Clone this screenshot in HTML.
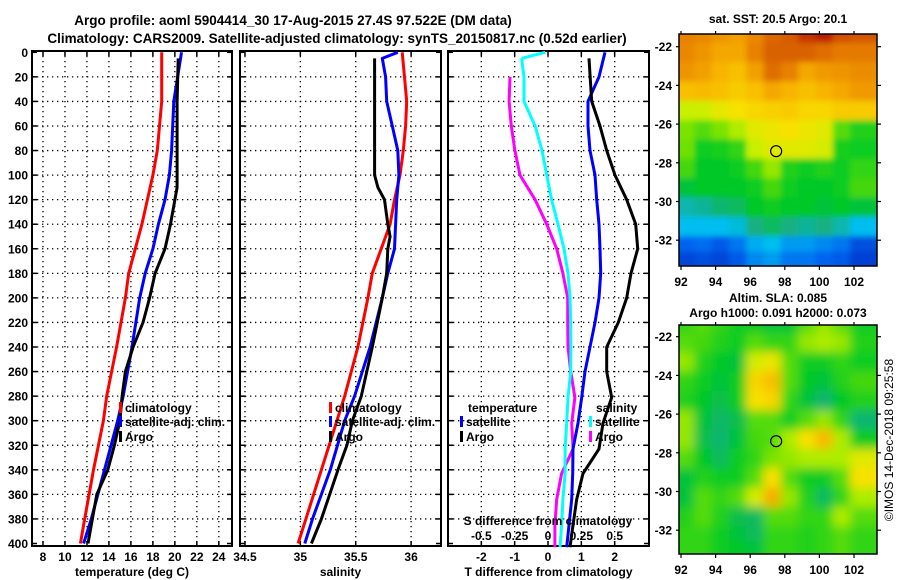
<!DOCTYPE html>
<html><head><meta charset="utf-8"><style>
body{margin:0;background:#fff}
svg{display:block;font-family:"Liberation Sans",sans-serif;font-weight:bold}
</style></head><body>
<svg id="c" width="900" height="580" viewBox="0 0 900 580" xmlns="http://www.w3.org/2000/svg">
<defs>
<filter id="bl" x="-5%" y="-5%" width="110%" height="110%"><feGaussianBlur stdDeviation="5"/></filter>
<filter id="bl2" x="-5%" y="-5%" width="110%" height="110%"><feGaussianBlur stdDeviation="3"/></filter>
<clipPath id="m1"><rect x="679" y="34" width="198" height="232"/></clipPath>
<clipPath id="m2"><rect x="679" y="325" width="198" height="229"/></clipPath>
</defs>
<text x="293" y="25" text-anchor="middle" font-size="13.5">Argo profile: aoml 5904414_30 17-Aug-2015 27.4S 97.522E (DM data)</text>
<text x="337" y="43" text-anchor="middle" font-size="13.5">Climatology: CARS2009. Satellite-adjusted climatology: synTS_20150817.nc (0.52d earlier)</text>
<text x="778" y="23" text-anchor="middle" font-size="12">sat. SST: 20.5 Argo: 20.1</text>
<text x="778" y="302" text-anchor="middle" font-size="12">Altim. SLA: 0.085</text>
<text x="778" y="317" text-anchor="middle" font-size="12">Argo h1000: 0.091 h2000: 0.073</text>
<text transform="translate(893,440) rotate(-90)" text-anchor="middle" font-size="12" font-weight="normal">©IMOS 14-Dec-2018 09:25:58</text>
<g id="g"></g>
</svg>
<script>
// ---- data ----
const depthTicks=[0,20,40,60,80,100,120,140,160,180,200,220,240,260,280,300,320,340,360,380,400];
const tempTicks=[8,10,12,14,16,18,20,22,24];
const salTicks=[34.5,35,35.5,36];
const salTickLabels=["34.5","35","35.5","36"];
const tdiffTicks=[-2,-1,0,1,2];
const sdiffTicks=[-0.5,-0.25,0,0.25,0.5];
const sdiffLabels=["-0.5","-0.25","0","0.25","0.5"];

const tClimDepth=[0,40,80,100,120,140,160,180,200,240,280,300,340,380,400];
const tClim=[18.8,18.8,18.4,18.0,17.5,17.0,16.4,15.8,15.5,14.7,13.8,13.5,12.6,11.8,11.4];
const tSatDepth=[0,40,80,100,120,140,160,180,200,240,280,300,340,380,400];
const tSat=[20.6,19.9,19.7,19.5,19.1,18.5,18.0,17.3,16.8,16.1,15.3,14.8,13.6,12.4,11.7];
const tArgoDepth=[5,40,100,110,120,140,160,180,200,220,240,260,280,300,320,340,360,380,400];
const tArgo=[20.3,20.2,20.2,20.2,20.0,19.6,19.1,18.2,17.7,17.1,16.2,15.5,15.2,15.0,14.5,13.9,12.9,12.5,12.1];

const sClimDepth=[0,20,40,60,80,100,120,140,160,180,200,240,280,300,340,380,400];
const sClim=[35.92,35.94,35.96,35.95,35.93,35.90,35.85,35.81,35.73,35.65,35.61,35.52,35.40,35.33,35.19,35.05,34.98];
const sSatDepth=[0,5,20,40,60,80,100,120,140,160,180,200,240,280,300,340,380,400];
const sSat=[35.88,35.74,35.77,35.78,35.83,35.88,35.89,35.87,35.86,35.85,35.79,35.74,35.63,35.49,35.40,35.27,35.11,35.04];
const sArgoDepth=[5,100,110,120,140,150,160,180,200,240,280,300,320,340,380,400];
const sArgo=[35.67,35.67,35.70,35.76,35.79,35.81,35.79,35.78,35.74,35.65,35.55,35.47,35.42,35.34,35.19,35.10];

const dDepth=[0,20,40,60,80,100,120,140,160,180,200,220,240,260,281,302,323,343,364,385,403];
const dTSat=[1.71,1.53,1.2,1.2,1.26,1.41,1.46,1.53,1.56,1.58,1.53,1.41,1.26,1.11,1.01,0.9,0.75,0.74,0.71,0.63,0.56];
const dTArgo=[1.26,1.23,1.31,1.56,1.76,2.01,2.36,2.63,2.69,2.49,2.36,2.11,1.76,1.76,1.91,1.65,1.53,1.05,0.86,0.75,0.66];
const dSSat=[-0.022,-0.18,-0.18,-0.097,-0.045,-0.01,0.027,0.075,0.12,0.15,0.165,0.17,0.172,0.17,0.15,0.14,0.128,0.128,0.112,0.102,0.09];
const dSArgo=[-0.262,-0.285,-0.292,-0.275,-0.248,-0.21,-0.097,-0.01,0.065,0.112,0.148,0.148,0.15,0.17,0.202,0.178,0.188,0.102,0.065,0.052,0.052];
const dSSatTop=[-0.022,-0.198];
const dSSatTopDepth=[0,5];

const lons=[92.5,93.5,94.5,95.5,96.5,97.5,98.5,99.5,100.5,101.5,102.5];
const lats=[-21.5,-22.5,-23.5,-24.5,-25.5,-26.5,-27.5,-28.5,-29.5,-30.5,-31.5,-32.5,-33.3];
const sstGrid=[
[.86,.85,.83,.81,.85,.90,.92,.96,.98,.94,.93],
[.85,.83,.80,.80,.86,.91,.91,.91,.89,.87,.87],
[.83,.81,.78,.76,.81,.89,.86,.80,.82,.83,.84],
[.76,.77,.76,.74,.76,.80,.78,.76,.78,.80,.82],
[.62,.63,.67,.70,.72,.73,.74,.72,.72,.74,.74],
[.56,.52,.56,.60,.66,.68,.70,.68,.66,.52,.46],
[.55,.44,.45,.48,.62,.66,.66,.66,.64,.45,.44],
[.50,.42,.42,.44,.50,.58,.46,.44,.46,.44,.48],
[.40,.42,.42,.42,.44,.50,.44,.42,.42,.44,.50],
[.28,.30,.34,.36,.42,.44,.42,.42,.40,.42,.40],
[.22,.22,.22,.24,.32,.36,.32,.30,.32,.28,.22],
[.12,.13,.10,.14,.20,.22,.18,.18,.16,.14,.08],
[.06,.08,.06,.10,.16,.18,.14,.14,.12,.10,.05]];
const slaGrid=[
[.48,.52,.48,.44,.42,.40,.40,.52,.58,.52,.44],
[.52,.50,.46,.44,.52,.48,.48,.58,.60,.58,.46],
[.58,.46,.42,.40,.64,.68,.52,.44,.44,.48,.44],
[.48,.44,.40,.44,.72,.76,.52,.42,.40,.46,.50],
[.46,.42,.38,.44,.70,.72,.48,.40,.34,.42,.46],
[.58,.40,.35,.38,.52,.52,.44,.52,.58,.48,.34],
[.58,.38,.34,.40,.50,.52,.60,.70,.77,.60,.44],
[.52,.42,.36,.44,.48,.56,.58,.60,.60,.60,.66],
[.40,.46,.44,.44,.52,.70,.52,.44,.44,.52,.70],
[.40,.52,.48,.52,.64,.79,.58,.46,.36,.48,.60],
[.46,.52,.46,.38,.36,.52,.52,.48,.48,.60,.52],
[.48,.48,.44,.40,.36,.48,.48,.46,.48,.52,.48],
[.48,.48,.44,.42,.40,.48,.48,.46,.48,.52,.48]];
const mapLonTicks=[92,94,96,98,100,102];
const mapLatTicks=[-22,-24,-26,-28,-30,-32];
const argoLon=97.5, argoLat=-27.4;

// ---- drawing ----
const NS="http://www.w3.org/2000/svg";
const G=document.getElementById('g');
function el(t,a,p){const e=document.createElementNS(NS,t);for(const k in a)e.setAttribute(k,a[k]);(p||G).appendChild(e);return e;}
const Y0=52.3,YS=1.228;
const yD=d=>Y0+d*YS;
const P1={x0:32,x1:232,lo:7,hi:25.2};
const P2={x0:240,x1:441,lo:34.455,hi:36.27};
const P3={x0:448,x1:649,lo:-3.0,hi:3.03};
const sx=(P,v)=>P.x0+(v-P.lo)/(P.hi-P.lo)*(P.x1-P.x0);
const sxS=v=>sx(P3,v*4);
const TOP=51,BOT=546;

function panel(P,name,xt,xl,title){
  const g=el('g',{});
  
  
  depthTicks.forEach(d=>{ if(d>0&&d<400){
    const l=el('line',{x1:P.x0,x2:P.x1,y1:yD(d),y2:yD(d),stroke:'#000','stroke-width':1.3,'stroke-dasharray':'1.3,3.7'},g);
    }
    el('line',{x1:P.x0,x2:P.x0+5,y1:yD(d),y2:yD(d),stroke:'#000','stroke-width':1.5},g);
    el('line',{x1:P.x1-5,x2:P.x1,y1:yD(d),y2:yD(d),stroke:'#000','stroke-width':1.5},g);
  });
  xt.forEach((v,i)=>{const x=sx(P,v);
    const l=el('line',{x1:x,x2:x,y1:TOP,y2:BOT,stroke:'#000','stroke-width':1.3,'stroke-dasharray':'1.3,3.7'},g);
    
    el('line',{x1:x,x2:x,y1:BOT-5,y2:BOT,stroke:'#000','stroke-width':1.5},g);
    el('line',{x1:x,x2:x,y1:TOP,y2:TOP+5,stroke:'#000','stroke-width':1.5},g);
    const t=el('text',{x:x,y:561,'text-anchor':'middle','font-size':12},g);t.textContent=xl[i];
    
  });
  const r=el('rect',{x:P.x0,y:TOP,width:P.x1-P.x0,height:BOT-TOP,fill:'none',stroke:'#000','stroke-width':2},g);
  
  const t=el('text',{x:(P.x0+P.x1)/2,y:576,'text-anchor':'middle','font-size':12},g);t.textContent=title;
  
}
panel(P1,'temperature-panel',tempTicks,tempTicks.map(String),'temperature (deg C)');
panel(P2,'salinity-panel',salTicks,salTickLabels,'salinity');
panel(P3,'difference-panel',tdiffTicks,tdiffTicks.map(String),'T difference from climatology');
depthTicks.forEach(d=>{const t=el('text',{x:28,y:yD(d)+4.5,'text-anchor':'end','font-size':12});t.textContent=d;
  });

function line(xs,ds,fx,color,name){
  const pts=xs.map((v,i)=>fx(v).toFixed(1)+','+yD(ds[i]).toFixed(1)).join(' ');
  const p=el('polyline',{points:pts,fill:'none',stroke:color,'stroke-width':3,'stroke-linejoin':'round'});
  
  
}
line(tClim,tClimDepth,v=>sx(P1,v),'#ff0000','temp-climatology-line');
line(tSat,tSatDepth,v=>sx(P1,v),'#0000ff','temp-satellite-line');
line(tArgo,tArgoDepth,v=>sx(P1,v),'#000','temp-argo-line');
line(sClim,sClimDepth,v=>sx(P2,v),'#ff0000','sal-climatology-line');
line(sSat,sSatDepth,v=>sx(P2,v),'#0000ff','sal-satellite-line');
line(sArgo,sArgoDepth,v=>sx(P2,v),'#000','sal-argo-line');
line(dSArgo.slice(1),dDepth.slice(1),sxS,'#ff00ff','sdiff-argo-line');
line(dSSatTop,dSSatTopDepth,sxS,'#00ffff','sdiff-satellite-top');
line([dSSatTop[1]].concat(dSSat.slice(1)),[5].concat(dDepth.slice(1)),sxS,'#00ffff','sdiff-satellite-line');
line(dTSat,dDepth,v=>sx(P3,v),'#0000ff','tdiff-satellite-line');
line(dTArgo.slice(1),[5].concat(dDepth.slice(2)),v=>sx(P3,v),'#000','tdiff-argo-line');

let st=el('text',{x:548,y:525,'text-anchor':'middle','font-size':12});st.textContent='S difference from climatology';

sdiffTicks.forEach((v,i)=>{const t=el('text',{x:sxS(v),y:540,'text-anchor':'middle','font-size':12});t.textContent=sdiffLabels[i];
  });

function legend(x,y,color,label,name){
  const r=el('rect',{x:x,y:y-10,width:3,height:11,fill:color});
  
  const t=el('text',{x:x+6,y:y,'font-size':12});t.textContent=label;
  
}
legend(119,412,'#ff0000','climatology','legend-climatology');
legend(119,426,'#0000ff','satellite-adj. clim.','legend-satellite');
legend(119,441,'#000','Argo','legend-argo');
legend(329,412,'#ff0000','climatology','legend-sal-climatology');
legend(329,426,'#0000ff','satellite-adj. clim.','legend-sal-satellite');
legend(329,441,'#000','Argo','legend-sal-argo');
let tt=el('text',{x:468,y:412,'font-size':12});tt.textContent='temperature';

legend(460,426,'#0000ff','satellite','legend-tdiff-satellite');
legend(460,441,'#000','Argo','legend-tdiff-argo');
let ts=el('text',{x:596,y:412,'font-size':12});ts.textContent='salinity';

legend(589,426,'#00ffff','satellite','legend-sdiff-satellite');
legend(589,441,'#ff00ff','Argo','legend-sdiff-argo');

// ---- maps ----
const stops=[[0,[0,40,190]],[.12,[0,100,240]],[.22,[0,190,240]],[.32,[20,176,130]],[.42,[0,200,40]],[.55,[110,225,0]],[.62,[200,240,0]],[.7,[248,225,0]],[.78,[248,180,0]],[.86,[232,128,0]],[.94,[208,80,0]],[1,[176,0,0]]];
function cmap(v){for(let i=1;i<stops.length;i++){if(v<=stops[i][0]){const a=stops[i-1],b=stops[i],f=(v-a[0])/(b[0]-a[0]);
  const c=a[1].map((x,k)=>Math.round(x+(b[1][k]-x)*f));return 'rgb('+c+')';}}return 'rgb(176,0,0)';}
function map(grid,box,clip,filt,name,latY){
  const mx=lon=>681+(lon-92)*17.3;
  const my=lat=>latY(lat);
  const g=el('g',{'clip-path':'url(#'+clip+')'});
  
  const gi=el('g',{filter:'url(#'+filt+')'},g);
  grid.forEach((row,r)=>row.forEach((v,c)=>{
    const x=mx(lons[c]-0.5)-4,y=my(lats[r]+0.5)-4;
    const w=17.3+8,h=19.3+8;
    const e=el('rect',{x:(c===0?x-15:x).toFixed(1),y:(r===0?y-15:y).toFixed(1),width:(c===0||c===row.length-1?w+15:w).toFixed(1),height:(r===0||r===grid.length-1?h+15:h).toFixed(1),fill:cmap(v)},gi);
    
  }));
  const c=el('circle',{cx:mx(argoLon),cy:my(argoLat),r:5.5,fill:'none',stroke:'#000','stroke-width':1.2});
  
  const f=el('rect',{x:box[0],y:box[1],width:box[2],height:box[3],fill:'none',stroke:'#000','stroke-width':1.5});
  
  mapLonTicks.forEach(lon=>{const x=mx(lon);
    el('line',{x1:x,x2:x,y1:box[1]+box[3],y2:box[1]+box[3]+4,stroke:'#000','stroke-width':1.2});
    el('line',{x1:x,x2:x,y1:box[1],y2:box[1]-3,stroke:'#000','stroke-width':1.2});
    const t=el('text',{x:x,y:box[1]+box[3]+20,'text-anchor':'middle','font-size':12});t.textContent=lon;
    });
  mapLatTicks.forEach(lat=>{const y=my(lat);
    el('line',{x1:box[0]-3,x2:box[0],y1:y,y2:y,stroke:'#000','stroke-width':1.2});
    el('line',{x1:box[0]+box[2],x2:box[0]+box[2]+4,y1:y,y2:y,stroke:'#000','stroke-width':1.2});
    const t=el('text',{x:672,y:y+4.5,'text-anchor':'end','font-size':12});t.textContent=lat;
    });
}
map(sstGrid,[679,34,198,232],'m1','bl2','sst-map',lat=>46.7+(-22-lat)*19.35);
map(slaGrid,[679,325,198,229],'m2','bl','sla-map',lat=>336.7+(-22-lat)*19.35);
</script>
</body></html>
